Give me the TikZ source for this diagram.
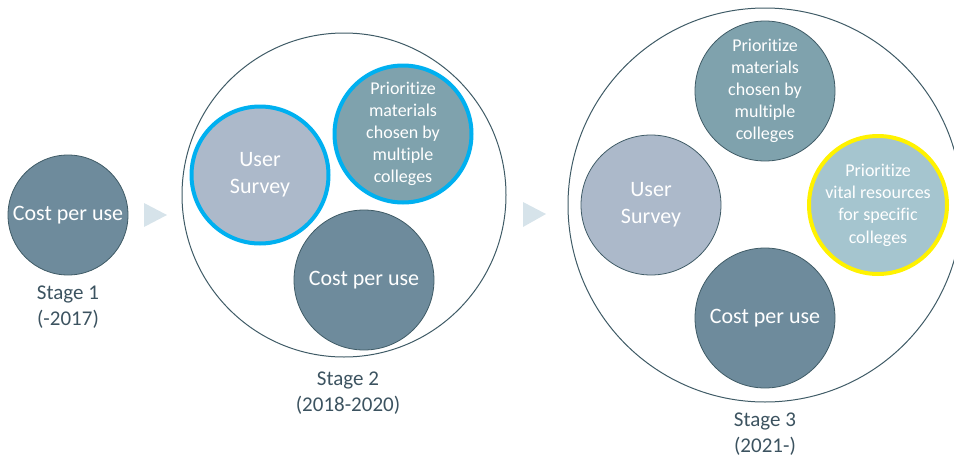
\documentclass[tikz,border=0pt]{standalone}
\usepackage{fontspec}
\setmainfont{Carlito}[Ligatures=NoCommon]
\usetikzlibrary{positioning}

\definecolor{costfill}{HTML}{6E8B9C}
\definecolor{matfill}{HTML}{7FA2AD}
\definecolor{surveyfill}{HTML}{ACB9CA}
\definecolor{vitalfill}{HTML}{A5C5CF}
\definecolor{ringline}{HTML}{3F5B66}
\definecolor{labeltext}{HTML}{3C5360}
\definecolor{stepfill}{HTML}{D6E3EA}
\definecolor{markblue}{HTML}{00B0F0}

\begin{document}
\begin{tikzpicture}[
    x=1pt, y=-1pt,
    item/.style={circle, draw=ringline, line width=0.8pt, inner sep=0pt,
        text=white, align=center, minimum size=140pt},
    costitem/.style={item, fill=costfill, font=\fontsize{22}{26}\selectfont},
    matitem/.style={item, fill=matfill, font=\fontsize{18}{22}\selectfont},
    surveyitem/.style={item, fill=surveyfill, font=\fontsize{22}{27}\selectfont},
    vitalitem/.style={item, fill=vitalfill, font=\fontsize{18}{22.3}\selectfont},
    picked/.style={draw=markblue, line width=4pt, minimum size=137pt},
    stagering/.style={circle, draw=ringline, line width=1pt, inner sep=0pt},
    stagelabel/.style={text=labeltext, align=center, font=\fontsize{21}{26}\selectfont},
]

\useasboundingbox (0,0) rectangle (954,458);

% stage 1
\node[costitem, minimum size=120pt] (cost1) at (68,215) {Cost per use};
\node[stagelabel] (label1) at (68,307) {Stage 1\\(-2017)};

\fill[stepfill] (144,203) -- (167,215) -- (144,227) -- cycle;

% stage 2
\node[stagering, minimum size=324pt] (ring2) at (344,195) {};
\node[surveyitem, picked] (survey2) at (260,175) {User\\Survey};
\node[matitem, picked] (mat2) at (403,134) {Prioritize\\materials\\chosen by\\multiple\\colleges};
\node[costitem] (cost2) at (364,280) {Cost per use};
\node[stagelabel] (label2) at (348,393) {Stage 2\\(2018-2020)};

\fill[stepfill] (523,202) -- (546,214) -- (523,227) -- cycle;

% stage 3
\node[stagering, minimum size=394pt] (ring3) at (765,205) {};
\node[matitem] (mat3) at (765,91) {Prioritize\\materials\\chosen by\\multiple\\colleges};
\node[surveyitem] (survey3) at (651,205) {User\\Survey};
\node[vitalitem, draw=yellow, line width=4pt, minimum size=138pt] (vital3) at (878,205) {Prioritize\\vital resources\\for specific\\colleges};
\node[costitem] (cost3) at (765,318) {Cost per use};
\node[stagelabel] (label3) at (765,434) {Stage 3\\(2021-)};

\end{tikzpicture}
\end{document}
